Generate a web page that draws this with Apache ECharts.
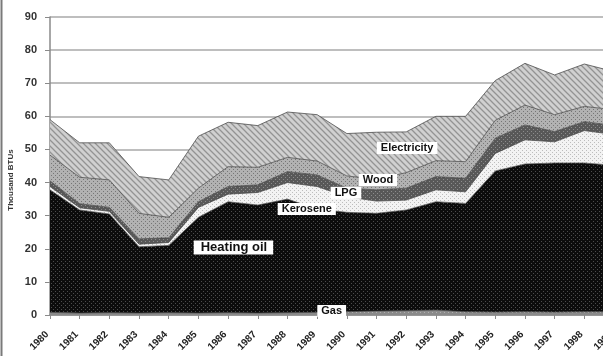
<!DOCTYPE html>
<html>
<head>
<meta charset="utf-8">
<script src="https://cdn.jsdelivr.net/npm/echarts@6/dist/echarts.min.js"></script>
<style>
  html, body { margin: 0; padding: 0; background: #fff; }
  #chart { width: 603px; height: 356px; }
</style>
</head>
<body>
<div id="chart"></div>
<script>
// Residential heating energy use by fuel, thousand BTUs (stacked)
const years = ['1980', '1981', '1982', '1983', '1984', '1985', '1986', '1987', '1988', '1989',
               '1990', '1991', '1992', '1993', '1994', '1995', '1996', '1997', '1998', '1999'];
const gas         = [0.8, 0.6, 0.7, 0.6, 0.7, 0.6, 0.7, 0.6, 0.7, 0.8, 1.0, 1.2, 1.3, 1.5, 1.0, 0.9, 1.0, 0.9, 1.0, 1.0];
const heatingOil  = [37.0, 31.1, 29.8, 20.0, 20.3, 28.9, 33.5, 32.6, 34.3, 31.2, 30.0, 29.5, 30.4, 32.7, 32.7, 42.6, 44.6, 45.0, 44.9, 44.2];
const kerosene    = [1.0, 0.7, 0.8, 0.8, 0.9, 3.0, 2.3, 3.8, 5.0, 6.8, 4.7, 3.7, 3.0, 3.6, 3.5, 5.3, 7.3, 6.4, 9.8, 9.3];
const lpg         = [1.7, 1.2, 1.2, 1.6, 1.4, 1.7, 2.3, 2.3, 3.3, 3.5, 2.6, 3.4, 3.6, 4.0, 4.1, 4.6, 4.5, 3.1, 2.7, 2.7];
const wood        = [7.8, 8.0, 8.3, 7.7, 6.2, 4.1, 6.0, 5.3, 4.3, 4.2, 3.7, 3.2, 4.7, 4.8, 5.0, 5.4, 6.0, 5.1, 4.6, 4.8];
const electricity = [10.7, 10.4, 11.2, 11.1, 11.3, 15.7, 13.4, 12.6, 13.7, 14.0, 12.8, 14.2, 12.3, 13.4, 13.7, 12.0, 12.6, 12.0, 12.8, 11.5];

const yMin = 0, yMax = 90, yStep = 10;

// In-chart series labels: [text, position along the year axis (index), value, font size]
const seriesLabels = [
  ['Electricity', 12.03, 50.4, 11],
  ['Wood',        11.05, 40.8, 11],
  ['LPG',          9.97, 36.9, 11],
  ['Kerosene',     8.65, 32.0, 11],
  ['Heating oil',  6.18, 20.4, 13],
  ['Gas',          9.49, 1.2, 11]
];

// Small tiled fills for the grayscale patterns
function tile(size, bg, draw) {
  const c = document.createElement('canvas');
  c.width = size; c.height = size;
  const g = c.getContext('2d');
  g.fillStyle = bg; g.fillRect(0, 0, size, size);
  draw(g, size);
  return { image: c, repeat: 'repeat' };
}
function dots(color, pts) {
  return (g) => { g.fillStyle = color; pts.forEach(p => g.fillRect(p[0], p[1], 1, 1)); };
}
const fills = {
  gas: tile(4, '#8a8a8a', dots('#b0b0b0', [[0, 0]])),
  oil: tile(4, '#0c0c0c', dots('#4c4c4c', [[1, 1], [3, 3]])),
  kerosene: tile(4, '#f3f3f3', dots('#bdbdbd', [[0, 0], [2, 2]])),
  lpg: tile(4, '#585858', dots('#8c8c8c', [[1, 1], [3, 3]])),
  wood: tile(4, '#b2b2b2', dots('#767676', [[1, 1], [3, 3]])),
  elec: tile(6, '#d0d0d0', (g, s) => {
    g.strokeStyle = '#939393'; g.lineWidth = 1.3;
    g.beginPath();
    g.moveTo(0, 0); g.lineTo(s, s);
    g.moveTo(-s, 0); g.lineTo(s, 2 * s);
    g.moveTo(0, -s); g.lineTo(2 * s, s);
    g.stroke();
  })
};

function layer(name, values, fill) {
  return {
    name: name,
    type: 'line',
    stack: 'total',
    symbol: 'none',
    data: values,
    lineStyle: { width: 1, color: 'rgba(70,70,70,0.75)' },
    areaStyle: { color: fill, opacity: 1 },
    emphasis: { disabled: true },
    silent: true
  };
}

const chart = echarts.init(document.getElementById('chart'), null, { renderer: 'canvas' });
const FONT = '"Liberation Sans", Arial, sans-serif';

chart.setOption({
  animation: false,
  backgroundColor: '#fff',
  grid: { left: 50, top: 17, width: 564, height: 298, containLabel: false, outerBoundsMode: 'none' },
  xAxis: {
    type: 'category',
    data: years,
    boundaryGap: false,
    axisLine: { show: true, lineStyle: { color: '#8a8a8a', width: 1.5 } },
    axisTick: { show: true, length: 4, interval: 0, lineStyle: { color: '#8a8a8a' } },
    splitLine: { show: false },
    axisLabel: {
      rotate: 45, margin: 15, interval: 0, color: '#222', fontSize: 10, fontWeight: 'bold',
      fontFamily: FONT, padding: [0, 4, 0, 0]
    }
  },
  yAxis: {
    type: 'value',
    min: yMin, max: yMax, interval: yStep,
    axisLine: { show: true, lineStyle: { color: '#8a8a8a', width: 1.5 } },
    axisTick: { show: true, length: 5, lineStyle: { color: '#8a8a8a' } },
    splitLine: { show: true, lineStyle: { color: '#a9a9a9', width: 1.5 } },
    axisLabel: { margin: 13, color: '#333', fontSize: 11, fontWeight: 'bold', fontFamily: FONT }
  },
  series: [
    layer('Gas', gas, fills.gas),
    layer('Heating oil', heatingOil, fills.oil),
    layer('Kerosene', kerosene, fills.kerosene),
    layer('LPG', lpg, fills.lpg),
    layer('Wood', wood, fills.wood),
    layer('Electricity', electricity, fills.elec)
  ]
});

// Position along the category axis, interpolated between neighbouring years
function toPixel(idx, value) {
  const i0 = Math.floor(idx), i1 = Math.min(i0 + 1, years.length - 1);
  const p0 = chart.convertToPixel({ gridIndex: 0 }, [i0, value]);
  const p1 = chart.convertToPixel({ gridIndex: 0 }, [i1, value]);
  const t = idx - i0;
  return [p0[0] + (p1[0] - p0[0]) * t, p0[1]];
}

// Series names inside their bands, plus the axis title and frame edge
const texts = seriesLabels.map(([label, idx, v, size]) => {
  const p = toPixel(idx, v);
  return {
    type: 'text',
    z: 100,
    style: {
      text: label, x: p[0], y: p[1],
      align: 'center', verticalAlign: 'middle',
      font: 'bold ' + size + 'px ' + FONT,
      fill: '#111',
      backgroundColor: '#fff',
      padding: size > 11 ? [1, 6, 0, 7] : [1, 4, 0, 4]
    }
  };
});
texts.push({
  type: 'text',
  z: 100,
  x: 11, y: 180,
  rotation: Math.PI / 2,
  style: {
    text: 'Thousand BTUs', x: 0, y: 0,
    align: 'center', verticalAlign: 'middle',
    font: 'bold 8px ' + FONT, fill: '#333'
  }
});
texts.push({
  type: 'line',
  z: 100,
  shape: { x1: 1.5, y1: 0, x2: 1.5, y2: 356 },
  style: { stroke: '#7a7a7a', lineWidth: 2 }
});
chart.setOption({ graphic: texts });
</script>
</body>
</html>
